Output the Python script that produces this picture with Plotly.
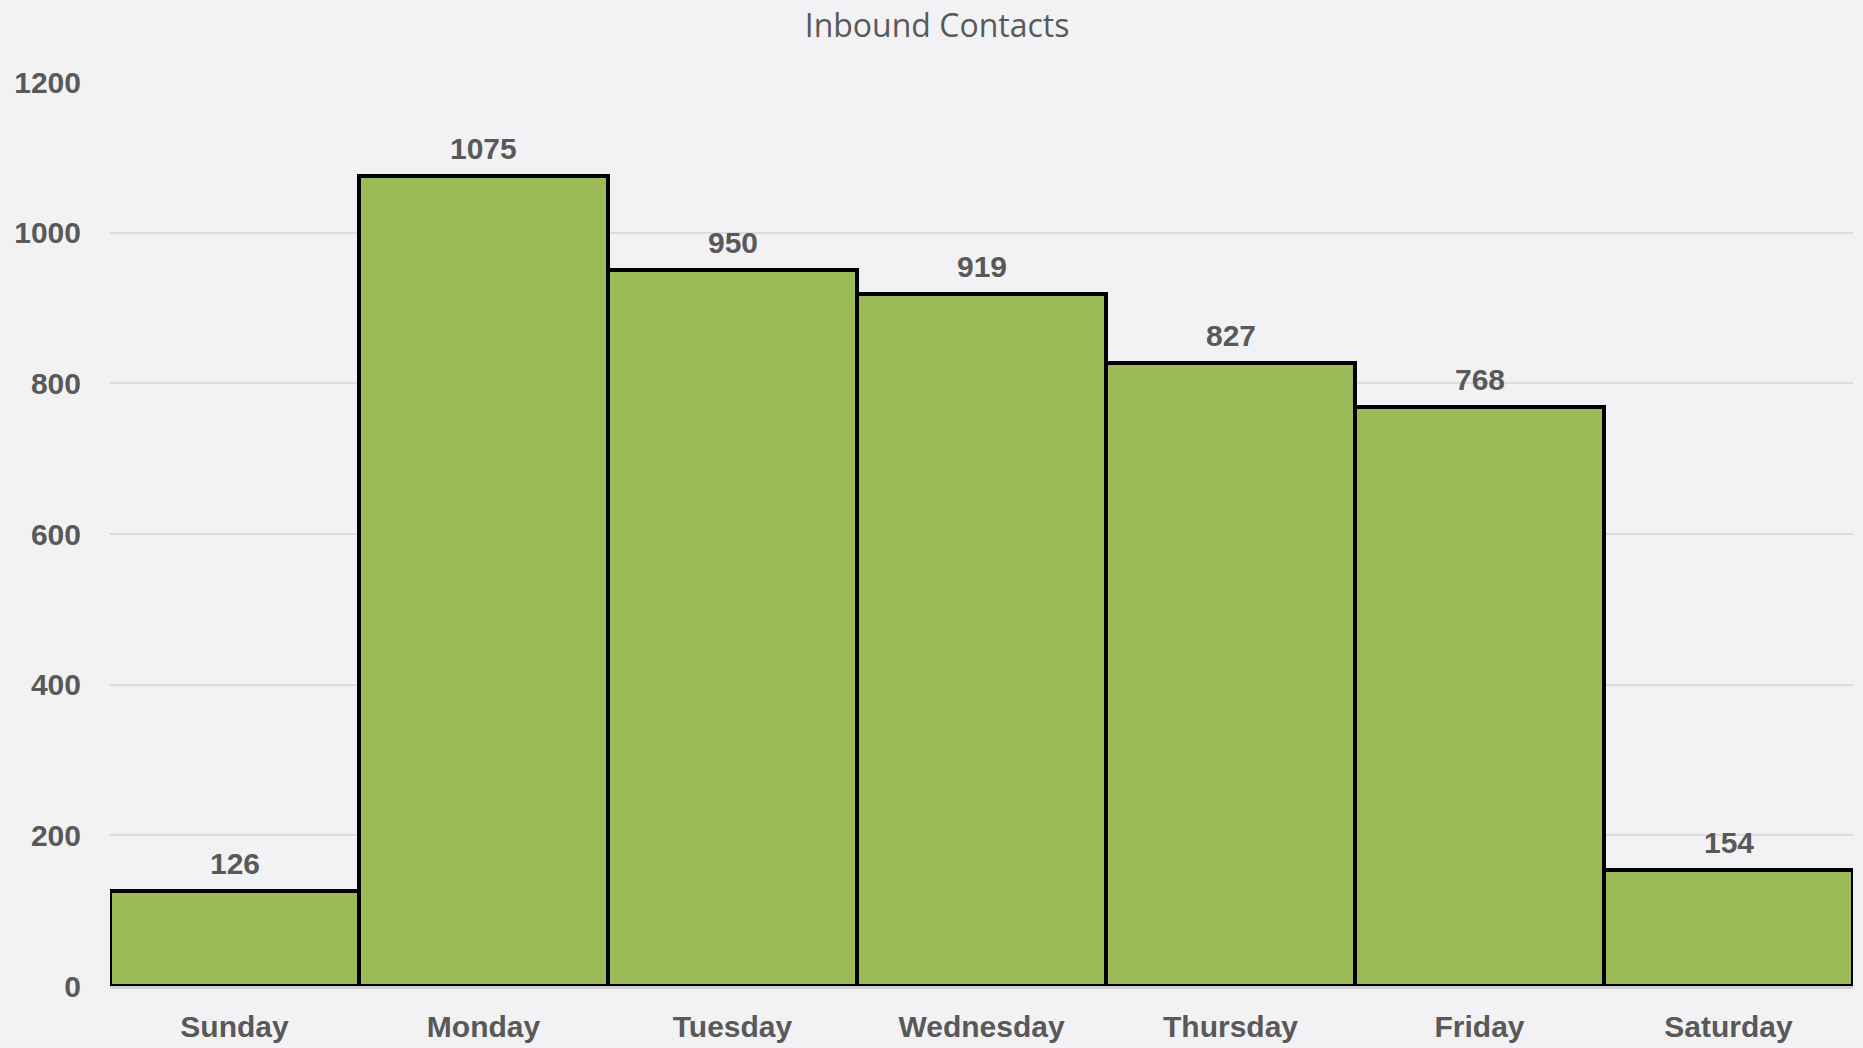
import plotly.graph_objects as go

days = ["Sunday", "Monday", "Tuesday", "Wednesday", "Thursday", "Friday", "Saturday"]
contacts = [126, 1075, 950, 919, 827, 768, 154]
y_ticks = [0, 200, 400, 600, 800, 1000, 1200]

label_font = dict(family="Liberation Sans", size=30, color="#595959", weight="bold")

fig = go.Figure(
    go.Bar(
        x=days,
        y=contacts,
        marker=dict(color="#9BBB59", line=dict(color="#000000", width=4)),
        cliponaxis=False,
    )
)

for d, v in zip(days, contacts):
    fig.add_annotation(
        x=d, y=v, text=str(v), showarrow=False,
        yanchor="bottom", yshift=9, font=label_font,
    )

fig.update_layout(
    width=1863,
    height=1048,
    paper_bgcolor="#F2F2F4",
    plot_bgcolor="#F2F2F4",
    margin=dict(l=110, r=10, t=82, b=62, autoexpand=False),
    bargap=0,
    showlegend=False,
    title=dict(
        text="Inbound Contacts",
        x=0.503,
        xanchor="center",
        y=0.975,
        yanchor="middle",
        font=dict(family="Open Sans", size=32, color="#595959"),
    ),
)

fig.update_yaxes(
    range=[0, 1200],
    tickvals=y_ticks,
    showgrid=True,
    gridcolor="#DCDCDC",
    gridwidth=2,
    zeroline=False,
    tickfont=label_font,
    ticklabelstandoff=28,
    automargin=False,
)
fig.update_xaxes(
    showline=True,
    linecolor="#D0D0D0",
    linewidth=3,
    tickfont=label_font,
    ticklabelstandoff=12,
    automargin=False,
)

fig.write_html(
    "out.html",
    config={"displayModeBar": False},
    post_script="document.body.style.margin='0';document.body.style.background='#F2F2F4';",
)
